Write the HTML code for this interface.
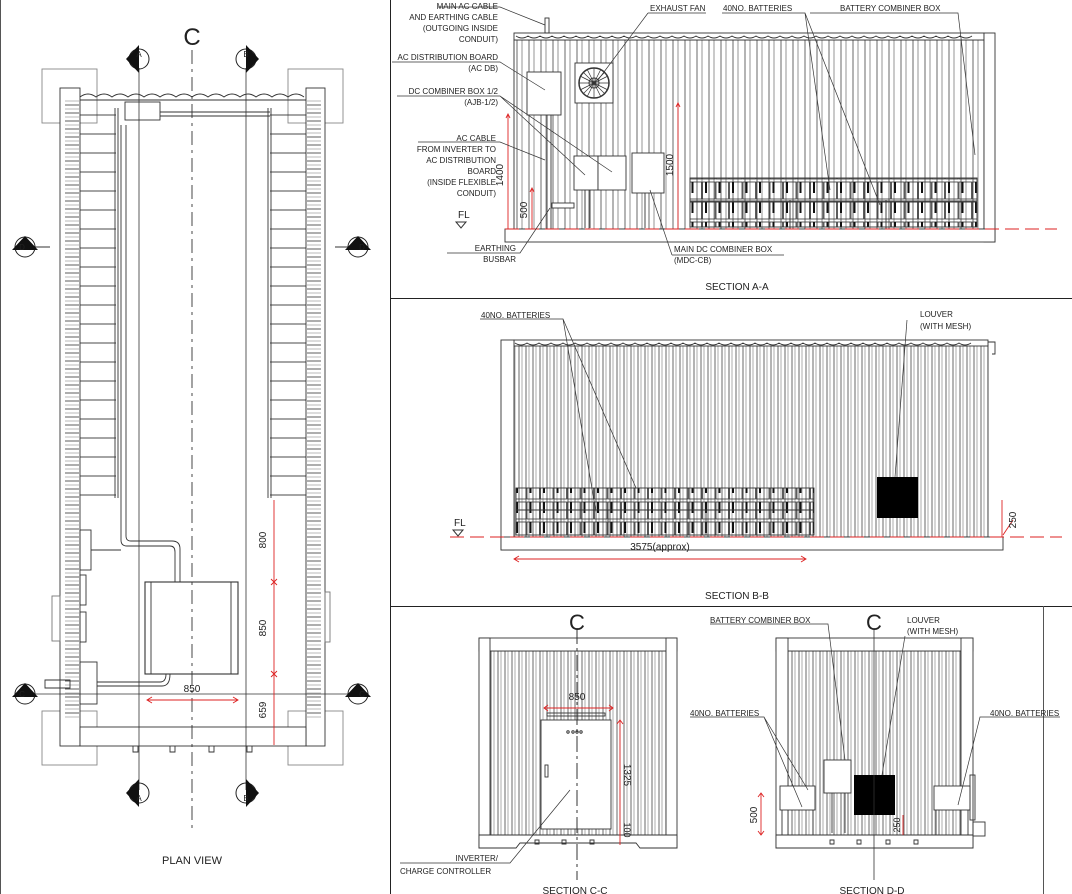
<!DOCTYPE html>
<html><head><meta charset="utf-8"><style>
html,body{margin:0;padding:0;background:#fff}
svg{display:block}
text{font-family:"Liberation Sans",sans-serif;fill:#222}
.s{font-size:8px}
.t{font-size:10px}
</style></head><body>
<svg width="1072" height="894" viewBox="0 0 1072 894" xmlns="http://www.w3.org/2000/svg">
<defs>
<pattern id="corr" width="12" height="10" patternUnits="userSpaceOnUse">
<line x1="1" y1="0" x2="1" y2="10" stroke="#444" stroke-width="0.8"/>
<line x1="6" y1="0" x2="6" y2="10" stroke="#666" stroke-width="0.7"/>
</pattern>
<pattern id="corr2" width="7" height="10" patternUnits="userSpaceOnUse">
<line x1="1" y1="0" x2="1" y2="10" stroke="#444" stroke-width="0.8"/>
<line x1="4" y1="0" x2="4" y2="10" stroke="#777" stroke-width="0.6"/>
</pattern>
<pattern id="hrow" width="10" height="8" patternUnits="userSpaceOnUse">
<line x1="0" y1="1" x2="10" y2="1" stroke="#333" stroke-width="0.8"/>
<line x1="0" y1="5" x2="10" y2="5" stroke="#888" stroke-width="0.6"/>
</pattern>
<pattern id="batt" width="13.5" height="20" patternUnits="userSpaceOnUse">
<rect x="0.5" y="2" width="12.5" height="17" fill="none" stroke="#333" stroke-width="0.8"/>
<line x1="4" y1="2" x2="4" y2="13" stroke="#111" stroke-width="2"/>
</pattern>
<pattern id="rack" width="10" height="19" patternUnits="userSpaceOnUse">
<line x1="0" y1="1" x2="10" y2="1" stroke="#333" stroke-width="0.9"/>
</pattern>
</defs>

<!-- frame lines -->
<line x1="0.5" y1="0" x2="0.5" y2="894" stroke="#555"/>
<line x1="390.5" y1="0" x2="390.5" y2="894" stroke="#222"/>
<line x1="390" y1="298.5" x2="1072" y2="298.5" stroke="#222"/>
<line x1="390" y1="606.5" x2="1072" y2="606.5" stroke="#222"/>
<line x1="1043.5" y1="606" x2="1043.5" y2="894" stroke="#555"/>

<!-- ===== PLAN VIEW ===== -->
<g fill="none" stroke="#333" stroke-width="0.9">
<rect x="42" y="69" width="55" height="54" stroke="#888"/>
<rect x="288" y="69" width="55" height="54" stroke="#888"/>
<rect x="42" y="711" width="55" height="54" stroke="#888"/>
<rect x="288" y="711" width="55" height="54" stroke="#888"/>
<rect x="60" y="88" width="20" height="658" fill="#fff"/>
<rect x="306" y="88" width="19" height="658" fill="#fff"/>
<rect x="65" y="100" width="14" height="620" fill="url(#hrow)" stroke="none"/>
<rect x="307" y="100" width="14" height="620" fill="url(#hrow)" stroke="none"/>
<rect x="80" y="727" width="226" height="19" fill="#fff"/>
<path d="M80 97 q8 -6 16 0 q8 -6 16 0 q8 -6 16 0 q8 -6 16 0 q8 -6 16 0 q8 -6 16 0 q8 -6 16 0 q8 -6 16 0 q8 -6 16 0 q8 -6 16 0 q8 -6 16 0 q8 -6 16 0 q8 -6 16 0 q8 -6 16 0"/>
<line x1="80" y1="100" x2="306" y2="100"/>
<rect x="125" y="102" width="35" height="18"/>
<line x1="160" y1="112" x2="270" y2="112"/>
<line x1="160" y1="116" x2="270" y2="116"/>
<rect x="80" y="108" width="36" height="390" fill="url(#rack)" stroke="none"/>
<rect x="270" y="108" width="36" height="390" fill="url(#rack)" stroke="none"/>
<line x1="115" y1="108" x2="115" y2="498"/>
<line x1="118" y1="108" x2="118" y2="498"/>
<line x1="268" y1="108" x2="268" y2="498"/>
<line x1="271" y1="108" x2="271" y2="498"/>
<path d="M121 125 V540 q0 6 6 6 H170 q5 0 5 6 V582"/>
<path d="M126 125 V536 q0 5 5 5 H172 q8 0 8 8 V582"/>
<line x1="91" y1="550" x2="121" y2="550"/>
<rect x="80" y="530" width="11" height="40"/>
<rect x="80" y="575" width="6" height="30"/>
<rect x="80" y="612" width="6" height="30"/>
<rect x="80" y="662" width="17" height="42"/>
<rect x="145" y="582" width="93" height="92" stroke-width="1.1"/>
<line x1="151" y1="582" x2="151" y2="674"/>
<line x1="231" y1="582" x2="231" y2="674"/>
<path d="M97 682 H160 q6 0 6 -8"/>
<path d="M97 686 H162 q8 0 8 -12"/>
<path d="M45 680 H70 v8 H45 z"/>
<rect x="52" y="596" width="8" height="45" stroke="#777"/>
<rect x="325" y="592" width="5" height="50" stroke="#777"/>
<path d="M133 746 v6 h5 v-6 M170 746 v6 h5 v-6 M209 746 v6 h5 v-6 M247 746 v6 h5 v-6"/>
</g>
<!-- plan section lines -->
<line x1="139" y1="68" x2="139" y2="790" stroke="#333" stroke-width="0.8"/>
<line x1="246" y1="68" x2="246" y2="790" stroke="#333" stroke-width="0.8"/>
<line x1="192" y1="50" x2="192" y2="830" stroke="#333" stroke-width="0.9" stroke-dasharray="14,5,3,5"/>
<line x1="25" y1="247" x2="50" y2="247" stroke="#333"/>
<line x1="335" y1="247" x2="360" y2="247" stroke="#333"/>
<line x1="25" y1="694" x2="360" y2="694" stroke="#333" stroke-width="0.8"/>
<text x="192" y="45" text-anchor="middle" style="font-size:24px">C</text>
<g fill="none" stroke="#222">
<circle cx="139" cy="59" r="10"/><circle cx="246" cy="59" r="10"/>
<circle cx="139" cy="793" r="10"/><circle cx="246" cy="793" r="10"/>
<circle cx="25" cy="247" r="10"/><circle cx="358" cy="247" r="10"/>
<circle cx="25" cy="694" r="10"/><circle cx="358" cy="694" r="10"/>
</g>
<g fill="#111">
<path d="M126 59 L139 45 V73 Z"/><path d="M259 59 L246 45 V73 Z"/>
<path d="M126 793 L139 779 V807 Z"/><path d="M259 793 L246 779 V807 Z"/>
<path d="M12 250 L25 236 L38 250 Z"/><path d="M345 250 L358 236 L371 250 Z"/>
<path d="M12 697 L25 683 L38 697 Z"/><path d="M345 697 L358 683 L371 697 Z"/>
</g>
<g class="s" text-anchor="middle">
<text x="139" y="57">A</text><text x="246" y="57">B</text>
<text x="139" y="801">A</text><text x="246" y="801">B</text>
<text x="22" y="250">D</text><text x="362" y="250">D</text>
<text x="22" y="697">C</text><text x="362" y="697">C</text>
</g>
<!-- plan dimensions -->
<g stroke="#d22" stroke-width="0.9" fill="none">
<line x1="274" y1="500" x2="274" y2="745"/>
<line x1="147" y1="700" x2="238" y2="700"/>
<path d="M271 579 l6 6 M277 579 l-6 6 M271 671 l6 6 M277 671 l-6 6"/>
<path d="M152 697 l-5 3 l5 3 M233 697 l5 3 l-5 3"/>
</g>
<g class="t">
<text transform="translate(266,540) rotate(-90)" text-anchor="middle">800</text>
<text transform="translate(266,628) rotate(-90)" text-anchor="middle">850</text>
<text transform="translate(266,710) rotate(-90)" text-anchor="middle">659</text>
<text x="192" y="692" text-anchor="middle">850</text>
<text x="192" y="864" text-anchor="middle" style="font-size:11px">PLAN VIEW</text>
</g>

<!-- ===== SECTION A-A ===== -->
<g stroke="#333" stroke-width="0.9" fill="none">
<rect x="514" y="40" width="470" height="189" fill="url(#corr)" stroke="#333"/>
<rect x="514" y="33" width="470" height="7" fill="#fff"/>
<path d="M516 36 q6 4 12 0 q6 4 12 0 q6 4 12 0 q6 4 12 0 q6 4 12 0 q6 4 12 0 q6 4 12 0 q6 4 12 0 q6 4 12 0 q6 4 12 0 q6 4 12 0 q6 4 12 0 q6 4 12 0 q6 4 12 0 q6 4 12 0 q6 4 12 0 q6 4 12 0 q6 4 12 0 q6 4 12 0 q6 4 12 0 q6 4 12 0 q6 4 12 0 q6 4 12 0 q6 4 12 0 q6 4 12 0 q6 4 12 0 q6 4 12 0 q6 4 12 0 q6 4 12 0 q6 4 12 0 q6 4 12 0 q6 4 12 0 q6 4 12 0 q6 4 12 0 q6 4 12 0 q6 4 12 0 q6 4 12 0 q6 4 12 0 q6 4 12"/>
<rect x="984" y="33" width="11" height="209" fill="#fff"/>
<rect x="505" y="229" width="490" height="13" fill="#fff"/>
<rect x="545" y="18" width="4" height="15"/>
<rect x="527" y="72" width="34" height="43" fill="#fff"/>
<rect x="575" y="63" width="38" height="40" fill="#fff"/>
<circle cx="594" cy="83" r="15" stroke-width="1.5"/>
<circle cx="594" cy="83" r="5"/>
<path d="M594 68 L594 98 M579 83 L609 83 M583 72 L605 94 M605 72 L583 94 M587 69 L601 97 M601 69 L587 97 M580 76 L608 90 M608 76 L580 90" stroke-width="0.7"/>
<rect x="574" y="156" width="24" height="34" fill="#fff"/>
<rect x="598" y="156" width="28" height="34" fill="#fff"/>
<rect x="632" y="153" width="32" height="40" fill="#fff"/>
<line x1="547" y1="115" x2="547" y2="229"/>
<line x1="551" y1="115" x2="551" y2="229"/>
<rect x="552" y="203" width="22" height="5" fill="#fff"/>
<path d="M585 190 v38 M590 190 v38 M645 193 v35"/>
<rect x="690" y="178" width="287" height="23" fill="url(#batt)" stroke="#333"/>
<rect x="690" y="202" width="287" height="25" fill="url(#batt)" stroke="#333"/>
<line x1="790" y1="200" x2="790" y2="229"/>
<line x1="886" y1="200" x2="886" y2="229"/>
</g>
<line x1="505" y1="229" x2="1057" y2="229" stroke="#d22" stroke-dasharray="14,6" stroke-width="0.9"/>
<g stroke="#d22" stroke-width="0.9" fill="none">
<line x1="508" y1="114" x2="508" y2="229"/><line x1="532" y1="188" x2="532" y2="229"/><line x1="678" y1="103" x2="678" y2="229"/>
<path d="M506 118 l2 -4 l2 4 M530 192 l2 -4 l2 4 M676 107 l2 -4 l2 4"/>
</g>
<g class="t">
<text transform="translate(503,175) rotate(-90)" text-anchor="middle">1400</text>
<text transform="translate(527,210) rotate(-90)" text-anchor="middle">500</text>
<text transform="translate(673,165) rotate(-90)" text-anchor="middle">1500</text>
<text x="458" y="218">FL</text>
</g>
<path d="M456 222 h10 l-5 6 z" fill="none" stroke="#333"/>
<g stroke="#333" stroke-width="0.7" fill="none">
<path d="M438 7 H500 L545 25"/>
<path d="M392 62 H500 L545 90"/>
<path d="M397 96 H500 L585 175 M500 96 L612 172"/>
<path d="M418 142 H500 L545 160"/>
<path d="M447 253 H520 L550 208"/>
<path d="M672 255 H784 M672 255 L650 190"/>
<path d="M648 13 H706 M648 13 L598 80"/>
<path d="M722 13 H805 L830 190 M805 13 L880 205"/>
<path d="M810 13 H958 L975 155"/>
</g>
<g class="s">
<text x="498" y="9" text-anchor="end">MAIN AC CABLE</text>
<text x="498" y="20" text-anchor="end">AND EARTHING CABLE</text>
<text x="498" y="31" text-anchor="end">(OUTGOING INSIDE</text>
<text x="498" y="42" text-anchor="end">CONDUIT)</text>
<text x="498" y="60" text-anchor="end">AC DISTRIBUTION BOARD</text>
<text x="498" y="71" text-anchor="end">(AC DB)</text>
<text x="498" y="94" text-anchor="end">DC COMBINER BOX 1/2</text>
<text x="498" y="105" text-anchor="end">(AJB-1/2)</text>
<text x="496" y="141" text-anchor="end">AC CABLE</text>
<text x="496" y="152" text-anchor="end">FROM INVERTER TO</text>
<text x="496" y="163" text-anchor="end">AC DISTRIBUTION</text>
<text x="496" y="174" text-anchor="end">BOARD</text>
<text x="496" y="185" text-anchor="end">(INSIDE FLEXIBLE</text>
<text x="496" y="196" text-anchor="end">CONDUIT)</text>
<text x="516" y="251" text-anchor="end">EARTHING</text>
<text x="516" y="262" text-anchor="end">BUSBAR</text>
<text x="674" y="252">MAIN DC COMBINER BOX</text>
<text x="674" y="263">(MDC-CB)</text>
<text x="650" y="11">EXHAUST FAN</text>
<text x="723" y="11">40NO. BATTERIES</text>
<text x="840" y="11">BATTERY COMBINER BOX</text>
</g>
<text x="737" y="290" class="t" text-anchor="middle">SECTION A-A</text>

<!-- ===== SECTION B-B ===== -->
<g stroke="#333" stroke-width="0.9" fill="none">
<rect x="514" y="345" width="474" height="192" fill="url(#corr2)"/>
<rect x="514" y="340" width="474" height="6" fill="#fff"/>
<path d="M515 343 q6 4 12 0 q6 4 12 0 q6 4 12 0 q6 4 12 0 q6 4 12 0 q6 4 12 0 q6 4 12 0 q6 4 12 0 q6 4 12 0 q6 4 12 0 q6 4 12 0 q6 4 12 0 q6 4 12 0 q6 4 12 0 q6 4 12 0 q6 4 12 0 q6 4 12 0 q6 4 12 0 q6 4 12 0 q6 4 12 0 q6 4 12 0 q6 4 12 0 q6 4 12 0 q6 4 12 0 q6 4 12 0 q6 4 12 0 q6 4 12 0 q6 4 12 0 q6 4 12 0 q6 4 12 0 q6 4 12 0 q6 4 12 0 q6 4 12 0 q6 4 12 0 q6 4 12 0 q6 4 12 0 q6 4 12 0 q6 4 12 0 q6 4 12"/>
<rect x="501" y="340" width="13" height="210" fill="#fff"/>
<rect x="501" y="537" width="502" height="13" fill="#fff"/>
<path d="M988 342 h7 v12 h-3"/>
<rect x="516" y="488" width="298" height="22" fill="url(#batt)"/>
<rect x="516" y="510" width="298" height="25" fill="url(#batt)"/>
<line x1="608" y1="510" x2="608" y2="535"/><line x1="706" y1="510" x2="706" y2="535"/>
</g>
<rect x="877" y="477" width="41" height="41" fill="#000"/>
<line x1="450" y1="537" x2="1062" y2="537" stroke="#d22" stroke-dasharray="14,6" stroke-width="0.9"/>
<g stroke="#d22" stroke-width="0.9" fill="none">
<line x1="514" y1="559" x2="806" y2="559"/>
<path d="M519 556 l-5 3 l5 3 M801 556 l5 3 l-5 3"/>
<line x1="1002" y1="500" x2="1002" y2="537"/>
<line x1="1003" y1="535" x2="1013" y2="520"/>
</g>
<g class="t">
<text x="660" y="550" text-anchor="middle">3575(approx)</text>
<text transform="translate(1016,520) rotate(-90)" text-anchor="middle">250</text>
<text x="454" y="526">FL</text>
</g>
<path d="M453 530 h10 l-5 6 z" fill="none" stroke="#333"/>
<g stroke="#333" stroke-width="0.7" fill="none">
<path d="M480 319 H563 L596 512 M563 319 L636 488"/>
<path d="M907 320 L895 477"/>
</g>
<g class="s">
<text x="481" y="318">40NO. BATTERIES</text>
<text x="920" y="317">LOUVER</text>
<text x="920" y="329">(WITH MESH)</text>
</g>
<text x="737" y="599" class="t" text-anchor="middle">SECTION B-B</text>

<!-- ===== SECTION C-C ===== -->
<g stroke="#333" stroke-width="0.9" fill="none">
<rect x="490" y="651" width="176" height="184" fill="url(#corr2)"/>
<rect x="479" y="638" width="198" height="13" fill="#fff"/>
<rect x="479" y="638" width="11" height="210" fill="#fff"/>
<rect x="666" y="638" width="11" height="210" fill="#fff"/>
<path d="M479 835 H677 V848 H640 l-4 -5 H520 l-4 5 H479 Z" fill="#fff"/>
<rect x="541" y="720" width="70" height="109" fill="#fff"/>
<rect x="547" y="713" width="58" height="3"/>
<rect x="545" y="765" width="3" height="12"/>
<path d="M535 840 h4 v4 h-4z M562 840 h4 v4 h-4z M590 840 h4 v4 h-4z"/>
</g>
<circle cx="568" cy="732" r="1.2" fill="none" stroke="#333"/><circle cx="573" cy="732" r="1.2" fill="none" stroke="#333"/><circle cx="577" cy="732" r="1.2" fill="none" stroke="#333"/><circle cx="581" cy="732" r="1.2" fill="none" stroke="#333"/>
<line x1="577" y1="628" x2="577" y2="880" stroke="#333" stroke-dasharray="16,4,3,4"/>
<text x="577" y="630" text-anchor="middle" style="font-size:22px">C</text>
<g stroke="#d22" stroke-width="0.9" fill="none">
<line x1="544" y1="708" x2="613" y2="708"/>
<path d="M548 705 l-4 3 l4 3 M609 705 l4 3 l-4 3"/>
<line x1="620" y1="720" x2="620" y2="845"/>
<path d="M617 724 l3 -4 l3 4"/>
</g>
<g class="t">
<text x="577" y="700" text-anchor="middle">850</text>
<text transform="translate(624,775) rotate(90)" text-anchor="middle">1325</text>
<text transform="translate(624,830) rotate(90)" text-anchor="middle" style="font-size:9px">100</text>
</g>
<path d="M400 863 H510 L570 790" fill="none" stroke="#333" stroke-width="0.7"/>
<g class="s">
<text x="498" y="861" text-anchor="end">INVERTER/</text>
<text x="400" y="874">CHARGE CONTROLLER</text>
</g>
<text x="575" y="894" class="t" text-anchor="middle">SECTION C-C</text>

<!-- ===== SECTION D-D ===== -->
<g stroke="#333" stroke-width="0.9" fill="none">
<rect x="788" y="651" width="174" height="184" fill="url(#corr2)"/>
<rect x="776" y="638" width="197" height="13" fill="#fff"/>
<rect x="776" y="638" width="12" height="210" fill="#fff"/>
<rect x="961" y="638" width="12" height="210" fill="#fff"/>
<path d="M776 835 H973 V848 H776 Z" fill="#fff"/>
<rect x="780" y="786" width="35" height="24" fill="#fff"/>
<rect x="934" y="786" width="36" height="24" fill="#fff"/>
<path d="M782 810 v25 M813 810 v25 M936 810 v25 M968 810 v25"/>
<rect x="824" y="760" width="27" height="33" fill="#fff"/>
<path d="M832 793 v40 M845 793 v40"/>
<rect x="973" y="822" width="12" height="14"/>
<rect x="970" y="775" width="5" height="45"/>
<path d="M830 840 h4 v4 h-4z M857 840 h4 v4 h-4z M886 840 h4 v4 h-4z M914 840 h4 v4 h-4z"/>
</g>
<rect x="854" y="775" width="41" height="40" fill="#000"/>
<line x1="874" y1="628" x2="874" y2="880" stroke="#333" stroke-width="0.8"/>
<text x="874" y="630" text-anchor="middle" style="font-size:22px">C</text>
<g stroke="#d22" stroke-width="0.9" fill="none">
<line x1="761" y1="793" x2="761" y2="835"/>
<path d="M758 797 l3 -4 l3 4 M758 831 l3 4 l3 -4"/>
<line x1="903" y1="815" x2="903" y2="835"/>
</g>
<g class="t">
<text transform="translate(757,815) rotate(-90)" text-anchor="middle">500</text>
<text transform="translate(900,825) rotate(-90)" text-anchor="middle" style="font-size:9px">250</text>
</g>
<g stroke="#333" stroke-width="0.7" fill="none">
<path d="M710 624 H828 L845 760"/>
<path d="M905 636 L882 775"/>
<path d="M690 717 H764 L802 807 M764 717 L808 790"/>
<path d="M1060 717 H980 L958 805"/>
</g>
<g class="s">
<text x="710" y="623">BATTERY COMBINER BOX</text>
<text x="907" y="623">LOUVER</text>
<text x="907" y="634">(WITH MESH)</text>
<text x="690" y="716">40NO. BATTERIES</text>
<text x="990" y="716">40NO. BATTERIES</text>
</g>
<text x="872" y="894" class="t" text-anchor="middle">SECTION D-D</text>
</svg>
</body></html>
